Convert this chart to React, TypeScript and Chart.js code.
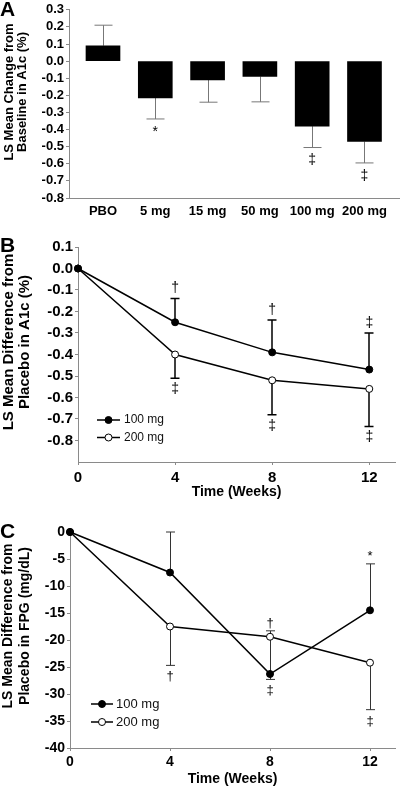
import React, { useEffect, useRef } from 'react';
import { Chart, registerables } from 'chart.js';

Chart.register(...registerables);

const FONT = "'Liberation Sans', Arial, Helvetica, sans-serif";
const AXIS = '#8a8a8a';

// ---------- Panel A data ----------
const aCategories = ['PBO', '5 mg', '15 mg', '50 mg', '100 mg', '200 mg'];
const aValues = [0.09, -0.215, -0.11, -0.09, -0.38, -0.47];
const aErrTips = [0.21, -0.338, -0.24, -0.238, -0.505, -0.595];
const aSymbols = ['', '*', '', '', '‡', '‡'];
const aYTicks = [0.3, 0.2, 0.1, 0, -0.1, -0.2, -0.3, -0.4, -0.5, -0.6, -0.7, -0.8];

// ---------- Panel B data ----------
const weeks = [0, 4, 8, 12];
const seriesNames = ['100 mg', '200 mg'];
const b100 = [0, -0.25, -0.39, -0.47];
const b100ErrTips = [null, -0.14, -0.24, -0.3];
const b100Symbols = ['', '†', '†', '‡'];
const b200 = [0, -0.4, -0.52, -0.56];
const b200ErrTips = [null, -0.51, -0.68, -0.735];
const b200Symbols = ['', '‡', '‡', '‡'];
const bYTicks = [0.1, 0, -0.1, -0.2, -0.3, -0.4, -0.5, -0.6, -0.7, -0.8];

// ---------- Panel C data ----------
const c100 = [0, -7.5, -26.3, -14.5];
const c100ErrTips = [null, 0, -18.3, -5.9];
const c100Symbols = ['', '', '†', '*'];
const c200 = [0, -17.5, -19.4, -24.2];
const c200ErrTips = [null, -24.7, -27.3, -32.9];
const c200Symbols = ['', '†', '‡', '‡'];
const cYTicks = [0, -5, -10, -15, -20, -25, -30, -35, -40];
const xWeekTicks = [0, 4, 8, 12];

const fmt1 = (v: number) => (v === 0 ? '0.0' : v.toFixed(1));

const errPlugin = {
  id: 'errBars',
  beforeDatasetsDraw(chart: any, _a: any, opts: any) {
    const { ctx } = chart;
    const ys = chart.scales.y;
    chart.data.datasets.forEach((ds: any, i: number) => {
      if (!ds.errTips) return;
      const meta = chart.getDatasetMeta(i);
      ctx.save();
      ctx.strokeStyle = opts.color;
      ctx.lineWidth = opts.width;
      ds.errTips.forEach((t: number | null, j: number) => {
        if (t == null) return;
        const el = meta.data[j];
        const x = Math.round(el.x) + (opts.width % 2 === 1 ? 0.5 : 0);
        const y0 = ys.getPixelForValue(ds.data[j].y);
        const y1 = ys.getPixelForValue(t);
        ctx.beginPath();
        ctx.moveTo(x, y0);
        ctx.lineTo(x, y1);
        ctx.moveTo(x - opts.cap / 2, y1);
        ctx.lineTo(x + opts.cap / 2, y1);
        ctx.stroke();
      });
      ctx.restore();
    });
  },
  afterDatasetsDraw(chart: any, _a: any, opts: any) {
    const { ctx } = chart;
    const ys = chart.scales.y;
    chart.data.datasets.forEach((ds: any, i: number) => {
      if (!ds.symbols) return;
      const meta = chart.getDatasetMeta(i);
      ctx.save();
      ctx.fillStyle = '#000';
      ctx.font = `${opts.symSize}px ${FONT}`;
      ctx.textAlign = 'center';
      ds.symbols.forEach((s: string, j: number) => {
        if (!s) return;
        const tip = ds.errTips[j] != null ? ds.errTips[j] : ds.data[j].y;
        const yt = ys.getPixelForValue(tip);
        const x = meta.data[j].x;
        if (ds.symbolSide === 'above') {
          ctx.textBaseline = 'bottom';
          ctx.fillText(s, x, yt - opts.gapAbove);
        } else {
          ctx.textBaseline = 'top';
          ctx.fillText(s, x, yt + opts.gapBelow);
        }
      });
      ctx.restore();
    });
  },
};

const decorPlugin = {
  id: 'decor',
  afterDraw(chart: any, _a: any, opts: any) {
    const { ctx } = chart;
    ctx.save();
    ctx.fillStyle = '#000';
    ctx.font = `bold ${opts.titleSize}px ${FONT}`;
    ctx.textAlign = 'center';
    ctx.textBaseline = 'middle';
    opts.titleLines.forEach((line: string, k: number) => {
      ctx.save();
      ctx.translate(opts.titleXs[k], opts.titleY);
      ctx.rotate(-Math.PI / 2);
      ctx.fillText(line, 0, 0);
      ctx.restore();
    });
    if (opts.legend) {
      const L = opts.legend;
      chart.data.datasets.forEach((ds: any, i: number) => {
        const y = L.y0 + i * L.dy;
        ctx.strokeStyle = '#000';
        ctx.lineWidth = 1.5;
        ctx.beginPath();
        ctx.moveTo(L.x0, y);
        ctx.lineTo(L.x1, y);
        ctx.stroke();
        ctx.beginPath();
        ctx.arc(L.cx, y, 3.5, 0, Math.PI * 2);
        ctx.fillStyle = ds.pointBackgroundColor;
        ctx.fill();
        ctx.lineWidth = 1;
        ctx.stroke();
        ctx.fillStyle = '#111';
        ctx.font = `${L.size}px ${FONT}`;
        ctx.textAlign = 'left';
        ctx.textBaseline = 'middle';
        ctx.fillText(ds.label, L.tx, y);
      });
    }
    ctx.restore();
  },
};

function yScale(min: number, max: number, ticks: number[], width: number, size: number, fmt: (v: number) => string) {
  return {
    type: 'linear',
    min,
    max,
    afterFit: (s: any) => {
      s.width = width;
    },
    afterBuildTicks: (s: any) => {
      s.ticks = ticks.map((v) => ({ value: v }));
    },
    grid: { drawOnChartArea: false, drawTicks: true, tickLength: 3, color: AXIS },
    border: { display: true, color: AXIS, width: 1 },
    ticks: {
      autoSkip: false,
      padding: 2,
      color: '#000',
      font: { family: FONT, size, weight: 'bold' },
      callback: (v: any) => fmt(Number(v)),
    },
  };
}

function weekXScale(max: number, height: number, size: number, pad: number, titlePad: number) {
  return {
    type: 'linear',
    min: 0,
    max,
    offset: false,
    afterFit: (s: any) => {
      s.height = height;
    },
    afterBuildTicks: (s: any) => {
      s.ticks = xWeekTicks.map((v) => ({ value: v }));
    },
    grid: { drawOnChartArea: false, drawTicks: true, tickLength: 3, color: AXIS },
    border: { display: true, color: AXIS, width: 1 },
    ticks: {
      autoSkip: false,
      maxRotation: 0,
      padding: pad,
      color: '#000',
      font: { family: FONT, size, weight: 'bold' },
    },
    title: {
      display: true,
      text: 'Time (Weeks)',
      color: '#000',
      font: { family: FONT, size: 14, weight: 'bold' },
      padding: { top: 0, bottom: titlePad },
    },
  };
}

function configA(): any {
  return {
    type: 'bar',
    data: {
      datasets: [
        {
          label: 'A1c change',
          data: aValues.map((v, i) => ({ x: i, y: v })),
          backgroundColor: '#000',
          borderWidth: 0,
          barThickness: 34,
          errTips: aErrTips,
          symbols: aSymbols,
          symbolSide: 'below',
        },
      ],
    },
    options: {
      responsive: false,
      animation: false,
      devicePixelRatio: 1,
      events: [],
      layout: { padding: { top: 8, right: 1, left: 0, bottom: 0 } },
      scales: {
        x: {
          type: 'linear',
          min: -0.65,
          max: 5.66,
          offset: false,
          afterFit: (s: any) => {
            s.height = 27;
          },
          afterBuildTicks: (s: any) => {
            s.ticks = aCategories.map((_, i) => ({ value: i }));
          },
          grid: { display: false, offset: false },
          border: { display: true, color: AXIS, width: 1 },
          ticks: {
            autoSkip: false,
            maxRotation: 0,
            padding: -2,
            color: '#000',
            font: { family: FONT, size: 13, weight: 'bold' },
            callback: (v: any) => aCategories[Math.round(Number(v))],
          },
        },
        y: yScale(-0.8, 0.3, aYTicks, 69, 13, fmt1),
      },
      plugins: {
        legend: { display: false },
        tooltip: { enabled: false },
        errBars: { color: '#777', width: 1, cap: 18, symSize: 14, gapAbove: 3, gapBelow: 6 },
        decor: {
          titleLines: ['LS Mean Change from', 'Baseline in A1c (%)'],
          titleSize: 13,
          titleXs: [9, 22],
          titleY: 92,
        },
      },
    },
    plugins: [errPlugin, decorPlugin],
  };
}

function lineDataset(label: string, vals: number[], tips: (number | null)[], syms: string[], side: string, fill: string) {
  return {
    label,
    data: vals.map((v, i) => ({ x: weeks[i], y: v })),
    borderColor: '#000',
    borderWidth: 1.5,
    pointRadius: 3.5,
    pointBackgroundColor: fill,
    pointBorderColor: '#000',
    pointBorderWidth: 1,
    clip: false,
    errTips: tips,
    symbols: syms,
    symbolSide: side,
  };
}

function configB(): any {
  return {
    type: 'line',
    data: {
      datasets: [
        lineDataset(seriesNames[0], b100, b100ErrTips, b100Symbols, 'above', '#000'),
        lineDataset(seriesNames[1], b200, b200ErrTips, b200Symbols, 'below', '#fff'),
      ],
    },
    options: {
      responsive: false,
      animation: false,
      devicePixelRatio: 1,
      events: [],
      layout: { padding: { top: 12, right: 2, left: 0, bottom: 0 } },
      scales: {
        x: weekXScale(13.06, 43, 15, 4, 4),
        y: yScale(-0.9, 0.1, bYTicks, 78, 15, fmt1),
      },
      plugins: {
        legend: { display: false },
        tooltip: { enabled: false },
        errBars: { color: '#000', width: 1.5, cap: 9, symSize: 14, gapAbove: 3, gapBelow: 4 },
        decor: {
          titleLines: ['LS Mean Difference from', 'Placebo in A1c (%)'],
          titleSize: 15,
          titleXs: [8.5, 25],
          titleY: 107,
          legend: { x0: 97, x1: 120, cx: 108.5, tx: 124, y0: 185, dy: 17.5, size: 12 },
        },
      },
    },
    plugins: [errPlugin, decorPlugin],
  };
}

function configC(): any {
  return {
    type: 'line',
    data: {
      datasets: [
        lineDataset(seriesNames[0], c100, c100ErrTips, c100Symbols, 'above', '#000'),
        lineDataset(seriesNames[1], c200, c200ErrTips, c200Symbols, 'below', '#fff'),
      ],
    },
    options: {
      responsive: false,
      animation: false,
      devicePixelRatio: 1,
      events: [],
      layout: { padding: { top: 20, right: 5, left: 0, bottom: 0 } },
      scales: {
        x: weekXScale(13.0, 40, 14, 3, 0),
        y: yScale(-40, 0, cYTicks, 70, 14, (v) => String(v)),
      },
      plugins: {
        legend: { display: false },
        tooltip: { enabled: false },
        errBars: { color: '#333', width: 1, cap: 9, symSize: 13, gapAbove: 1, gapBelow: 5 },
        decor: {
          titleLines: ['LS Mean Difference from', 'Placebo in FPG (mg/dL)'],
          titleSize: 14,
          titleXs: [8.5, 25.5],
          titleY: 114,
          legend: { x0: 91, x1: 113, cx: 102, tx: 116, y0: 192, dy: 18, size: 13 },
        },
      },
    },
    plugins: [errPlugin, decorPlugin],
  };
}

function Panel({ top, height, make }: { top: number; height: number; make: () => any }) {
  const ref = useRef<HTMLCanvasElement>(null);
  useEffect(() => {
    const chart = new Chart(ref.current as HTMLCanvasElement, make());
    return () => chart.destroy();
  }, []);
  return (
    <canvas
      ref={ref}
      width={400}
      height={height}
      style={{ position: 'absolute', left: 0, top, width: 400, height, display: 'block' }}
    />
  );
}

const letterStyle = (top: number): React.CSSProperties => ({
  position: 'absolute',
  left: 0,
  top,
  fontFamily: FONT,
  fontWeight: 'bold',
  fontSize: 21,
  lineHeight: '21px',
  color: '#000',
});

export default function App() {
  return (
    <div style={{ position: 'absolute', left: 0, top: 0, width: 400, height: 788, background: '#fff', overflow: 'hidden' }}>
      <Panel top={0} height={225} make={configA} />
      <Panel top={235} height={270} make={configB} />
      <Panel top={512} height={276} make={configC} />
      <div style={letterStyle(-2)}>A</div>
      <div style={letterStyle(234)}>B</div>
      <div style={letterStyle(520)}>C</div>
    </div>
  );
}
